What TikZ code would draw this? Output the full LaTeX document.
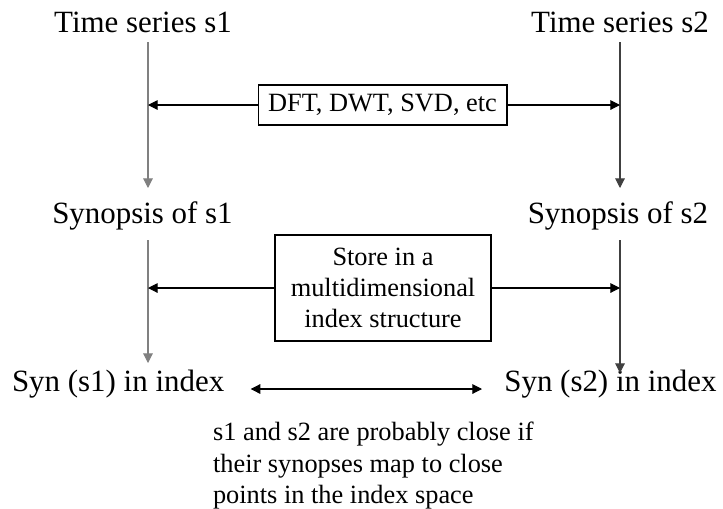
\documentclass[tikz,border=0pt]{standalone}
\usepackage{fontspec}
\setmainfont{Liberation Serif}
\usetikzlibrary{arrows.meta}
\tikzset{
    big/.style={inner sep=0pt, anchor=base, font=\fontsize{17.6}{21}\selectfont},
    small/.style={font=\fontsize{15}{17.8}\selectfont},
    stepbox/.style={draw, line width=0.6pt, inner sep=0pt, small, align=center},
    flow/.style={line width=0.6pt, -{Triangle[length=5.5pt,width=5.5pt]}},
    bothways/.style={line width=0.6pt, {Triangle[length=5.5pt,width=5.5pt]}-{Triangle[length=5.5pt,width=5.5pt]}},
}
\begin{document}
\begin{tikzpicture}[x=0.02cm, y=-0.02cm]
    \useasboundingbox (0,0) rectangle (723,508);
    \pgfmathsetmacro\leftx{148};
    \pgfmathsetmacro\rightx{620};

    \node[big] (ts1) at (143, 32) {Time series s1};
    \node[big] (ts2) at (620, 32) {Time series s2};
    \node[big] (syn1) at (142.5, 223) {Synopsis of s1};
    \node[big] (syn2) at (618, 223) {Synopsis of s2};
    \node[big, anchor=base west] (idx1) at (11.7, 391.7) {Syn (s1) in index};
    \node[big, anchor=base west] (idx2) at (504, 391.7) {Syn (s2) in index};

    \node[stepbox, minimum width=4.98cm, minimum height=0.8cm] (dft) at (382.5, 105)
        {DFT, DWT, SVD, etc};
    \node[stepbox, minimum width=4.32cm, minimum height=2.12cm] (store) at (383, 288)
        {Store in a\\multidimensional\\index structure};
    \node[small, inner sep=0pt, anchor=north west, align=left] (note) at (212.7, 422)
        {s1 and s2 are probably close if\\their synopses map to close\\points in the index space};

    \coordinate (top1) at (\leftx, 42);
    \coordinate (top2) at (\rightx, 42);
    \coordinate (tip1) at (\leftx, 188);
    \coordinate (tip2) at (\rightx, 188);
    \coordinate (mid1) at (\leftx, 240);
    \coordinate (mid2) at (\rightx, 240);
    \coordinate (low1) at (\leftx, 363);
    \coordinate (low2) at (\rightx, 373);
    \coordinate (near1) at (250.7, 389);
    \coordinate (near2) at (482, 389);

    \draw[flow, gray] (top1) -- (tip1);
    \draw[flow, black!75] (top2) -- (tip2);
    \draw[flow, gray] (mid1) -- (low1);
    \draw[flow, black!75] (mid2) -- (low2);
    \draw[flow] (dft.west) -- (dft.west -| top1);
    \draw[flow] (dft.east) -- (dft.east -| top2);
    \draw[flow] (store.west) -- (store.west -| mid1);
    \draw[flow] (store.east) -- (store.east -| mid2);
    \draw[bothways] (near1) -- (near2);
\end{tikzpicture}
\end{document}
